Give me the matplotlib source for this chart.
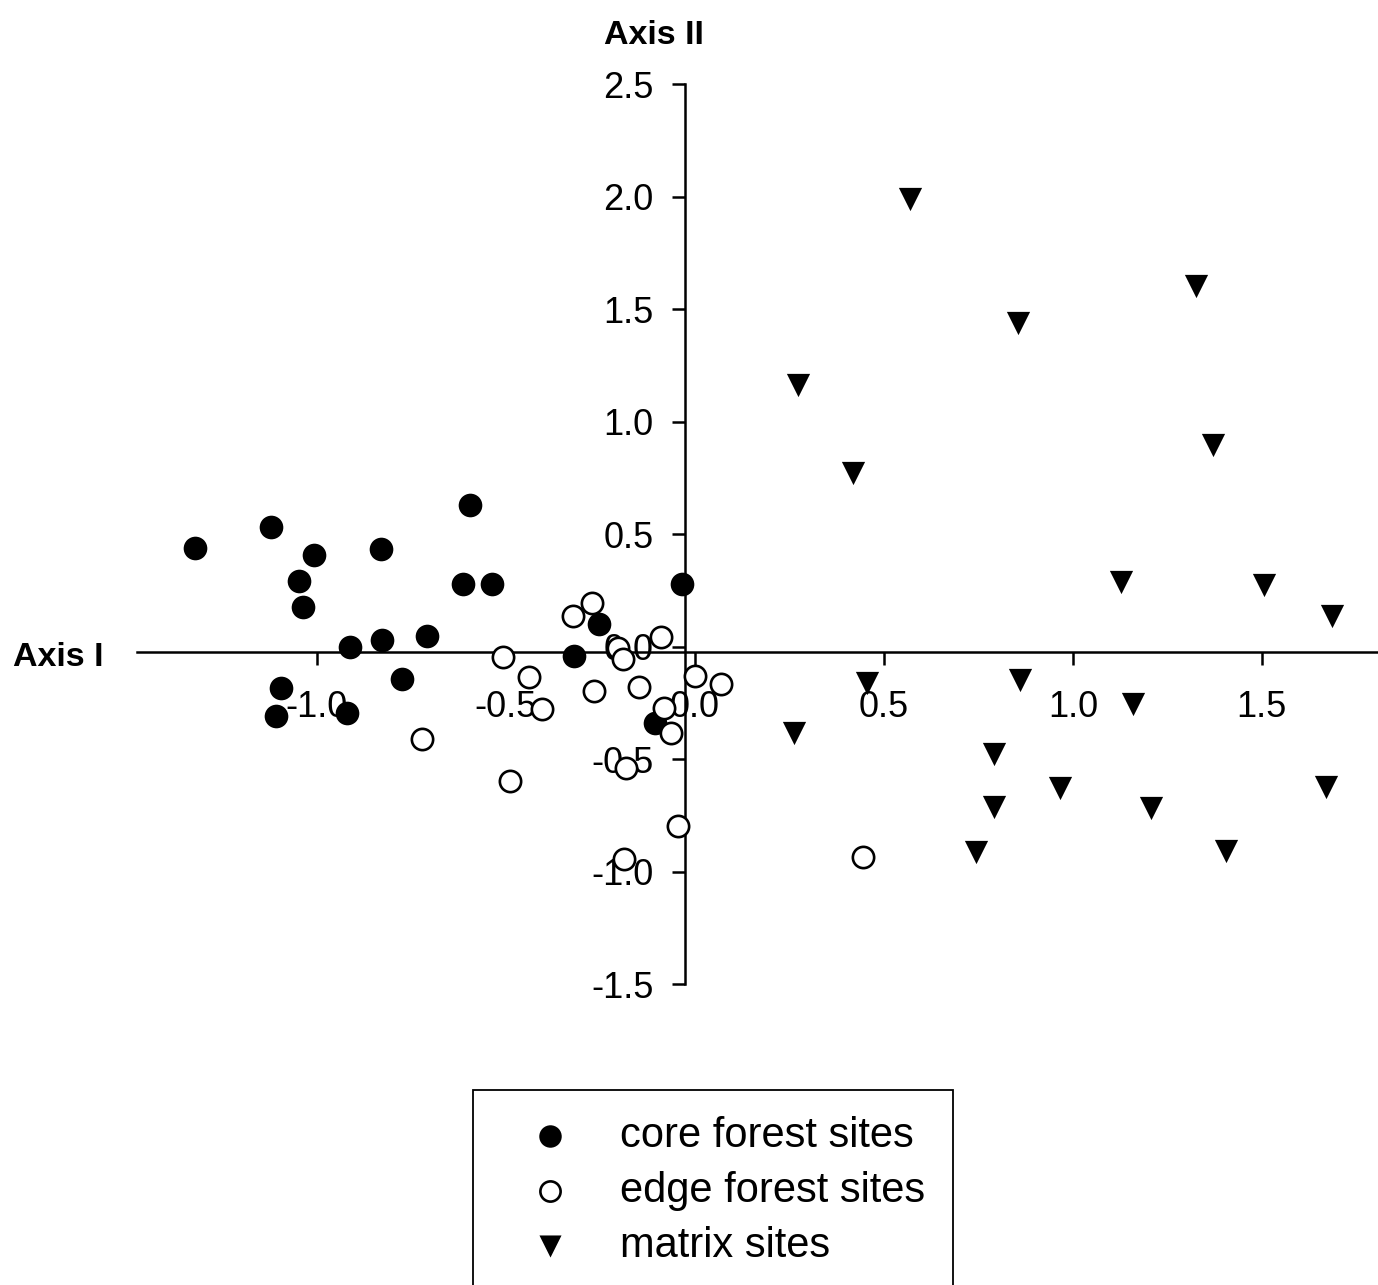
import matplotlib
matplotlib.use("Agg")
import matplotlib.pyplot as plt
from matplotlib.patches import Rectangle

plt.rcParams["font.family"] = ["Liberation Sans", "DejaVu Sans"]
plt.rcParams["axes.unicode_minus"] = False

# ordination scores per site group (Axis I, Axis II)
core_x = [-1.323, -1.122, -1.008, -1.047, -1.036, -0.830, -0.594, -0.613, -0.538, -0.913,
          -0.828, -0.708, -1.094, -1.108, -0.921, -0.775, -0.320, -0.253, -0.035, -0.106]
core_y = [0.440, 0.532, 0.410, 0.293, 0.178, 0.436, 0.631, 0.278, 0.278, 0.001,
          0.031, 0.049, -0.184, -0.307, -0.295, -0.144, -0.040, 0.102, 0.280, -0.338]

edge_x = [-0.509, -0.438, -0.405, -0.323, -0.273, -0.204, -0.191, -0.090, -0.147, -0.266,
          -0.081, -0.062, 0.000, 0.068, -0.183, -0.488, -0.721, -0.044, -0.187, 0.445]
edge_y = [-0.046, -0.132, -0.276, 0.138, 0.197, -0.003, -0.055, 0.046, -0.176, -0.196,
          -0.271, -0.381, -0.128, -0.164, -0.540, -0.598, -0.410, -0.795, -0.944, -0.933]

matrix_x = [0.569, 1.325, 0.854, 0.272, 1.370, 0.419, 1.128, 1.505, 1.685, 0.456,
            0.860, 1.160, 0.262, 0.792, 0.967, 0.792, 1.208, 1.670, 0.744, 1.405]
matrix_y = [1.991, 1.603, 1.439, 1.166, 0.896, 0.775, 0.288, 0.274, 0.136, -0.159,
            -0.147, -0.255, -0.381, -0.476, -0.628, -0.710, -0.717, -0.624, -0.910, -0.905]

labels = ["core forest sites", "edge forest sites", "matrix sites"]
x_ticks = [-1.0, -0.5, 0.0, 0.5, 1.0, 1.5]
y_ticks = [-1.5, -1.0, -0.5, 0.0, 0.5, 1.0, 1.5, 2.0, 2.5]

fig = plt.figure(figsize=(13.78, 12.85), dpi=100)
ax = fig.add_axes([0.0929, 0.2304, 0.9078, 0.7074])
ax.set_xlim(-1.5, 1.81)
ax.set_ylim(-1.52, 2.52)

sc_core = ax.scatter(core_x, core_y, s=290, marker="o", c="black", linewidths=0, zorder=3)
sc_edge = ax.scatter(edge_x, edge_y, s=235, marker="o", facecolors="white",
                     edgecolors="black", linewidths=1.9, zorder=3)
sc_matrix = ax.scatter(matrix_x, matrix_y, s=280, marker="v", c="black", linewidths=0, zorder=3)

# axes cross near the origin
for side in ("top", "right"):
    ax.spines[side].set_visible(False)
ax.spines["left"].set_position(("data", -0.026))
ax.spines["left"].set_bounds(-1.5, 2.5)
ax.spines["bottom"].set_position(("data", -0.022))
ax.spines["bottom"].set_bounds(-1.476, 1.81)
for side in ("left", "bottom"):
    ax.spines[side].set_linewidth(1.8)

ax.set_xticks(x_ticks)
ax.set_xticklabels([f"{v:.1f}" for v in x_ticks])
ax.set_yticks(y_ticks)
ax.set_yticklabels([f"{v:.1f}" for v in y_ticks])
ax.tick_params(direction="out", length=9.5, width=1.8, labelsize=26)
ax.tick_params(axis="x", pad=18)
ax.tick_params(axis="y", pad=13)

fig.text(654 / 1378, 1 - 35 / 1285, "Axis II", fontsize=24.5, fontweight="bold",
         ha="center", va="center")
fig.text(58 / 1378, 1 - 657 / 1285, "Axis I", fontsize=24.5, fontweight="bold",
         ha="center", va="center")

leg = fig.legend([sc_core, sc_edge, sc_matrix], labels, loc="center left",
                 bbox_to_anchor=(519 / 1378, 1 - 1191 / 1285), frameon=False,
                 fontsize=30, handlelength=1.5, handletextpad=0.92, labelspacing=0.35,
                 borderpad=0, borderaxespad=0, markerscale=0.95, scatterpoints=1)

fig.add_artist(Rectangle((473 / 1378, -0.05), (953 - 473) / 1378, 0.05 + (1 - 1090 / 1285),
                         transform=fig.transFigure, fill=False, edgecolor="black",
                         linewidth=1.3))

fig.savefig("out.png", dpi=100)
